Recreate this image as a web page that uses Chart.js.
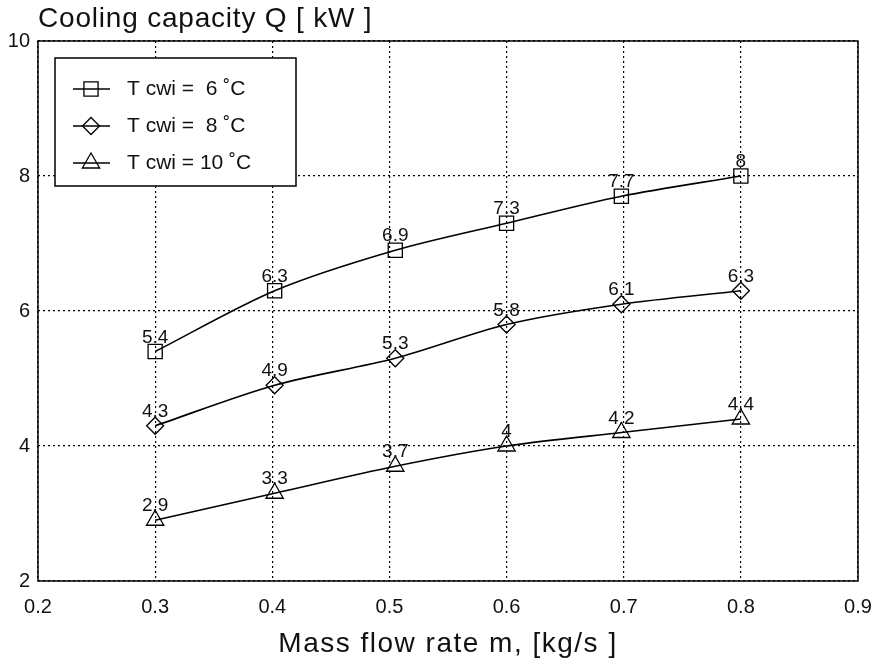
<!DOCTYPE html>
<html>
<head>
<meta charset="utf-8">
<script src="https://cdn.jsdelivr.net/npm/chart.js@4/dist/chart.umd.min.js"></script>
<style>
  html, body { margin: 0; background: #fff; }
  #wrap { width: 877px; height: 665px; }
</style>
</head>
<body>
<div id="wrap"><canvas id="chart"></canvas></div>
<script>
// values
const flowRates = [0.3, 0.402, 0.505, 0.6, 0.698, 0.8];
const capacity6 = [5.4, 6.3, 6.9, 7.3, 7.7, 8];
const capacity8 = [4.3, 4.9, 5.3, 5.8, 6.1, 6.3];
const capacity10 = [2.9, 3.3, 3.7, 4, 4.2, 4.4];
const seriesLabels = ['T cwi =  6 \u02DAC', 'T cwi =  8 \u02DAC', 'T cwi = 10 \u02DAC'];
const xTicks = [0.2, 0.3, 0.4, 0.5, 0.6, 0.7, 0.8, 0.9];
const yTicks = [2, 4, 6, 8, 10];
const chartTitle = 'Cooling capacity Q [ kW ]';
const xTitle = 'Mass flow rate m, [kg/s ]';

const pointStyles = ['rect', 'rectRot', 'triangle'];
const pointSizes = [10, 8.5, 10];

const toPoints = vals => vals.map((v, i) => ({ x: flowRates[i], y: v }));

// draw a hollow marker (used in the legend)
function drawMarker(ctx, style, x, y, r) {
    ctx.beginPath();
    if (style === 'rect') {
        const s = r * Math.SQRT1_2;
        ctx.rect(x - s, y - s, 2 * s, 2 * s);
    } else if (style === 'rectRot') {
        ctx.moveTo(x, y - r); ctx.lineTo(x + r, y); ctx.lineTo(x, y + r); ctx.lineTo(x - r, y); ctx.closePath();
    } else {
        const h = r * 1.5, w = r * Math.sqrt(3) / 2;
        ctx.moveTo(x, y - r); ctx.lineTo(x + w, y - r + h); ctx.lineTo(x - w, y - r + h); ctx.closePath();
    }
    ctx.stroke();
}

const framePlugin = {
    id: 'frame',
    afterDraw(chart) {
        const { ctx, chartArea: a } = chart;
        ctx.save();
        ctx.strokeStyle = '#000';
        ctx.lineWidth = 1.5;
        ctx.strokeRect(a.left, a.top, a.right - a.left, a.bottom - a.top);

        // titles
        ctx.fillStyle = '#111';
        ctx.textBaseline = 'alphabetic';
        ctx.font = '28px "Liberation Sans", Arial, sans-serif';
        ctx.letterSpacing = '0.8px';
        ctx.textAlign = 'left';
        ctx.fillText(chartTitle, a.left, 27);
        ctx.letterSpacing = '1.5px';
        ctx.textAlign = 'center';
        ctx.fillText(xTitle, 448, 652);
        ctx.letterSpacing = '0px';

        // legend box
        const bx = a.left + 17, by = a.top + 17, bw = 241, bh = 128;
        ctx.fillStyle = '#fff';
        ctx.fillRect(bx, by, bw, bh);
        ctx.lineWidth = 1.5;
        ctx.strokeRect(bx, by, bw, bh);
        ctx.font = '21px "Liberation Sans", Arial, sans-serif';
        ctx.textAlign = 'left';
        ctx.textBaseline = 'middle';
        ctx.fillStyle = '#111';
        seriesLabels.forEach((label, i) => {
            const y = by + 31 + i * 37;
            ctx.lineWidth = 1.5;
            ctx.beginPath();
            ctx.moveTo(bx + 18, y); ctx.lineTo(bx + 55, y);
            ctx.stroke();
            ctx.lineWidth = 1.3;
            drawMarker(ctx, pointStyles[i], bx + 36, y, pointSizes[i]);
            ctx.fillText(label, bx + 72, y);
        });
        ctx.restore();
    }
};

const valueLabels = {
    id: 'valueLabels',
    afterDatasetsDraw(chart) {
        const ctx = chart.ctx;
        ctx.save();
        ctx.fillStyle = '#111';
        ctx.font = '19px "Liberation Sans", Arial, sans-serif';
        ctx.textAlign = 'center';
        ctx.textBaseline = 'alphabetic';
        chart.data.datasets.forEach((ds, di) => {
            chart.getDatasetMeta(di).data.forEach((pt, i) => {
                ctx.fillText(String(ds.data[i].y), pt.x, pt.y - 9);
            });
        });
        ctx.restore();
    }
};

const makeSet = (label, vals, i) => ({
    label: label,
    data: toPoints(vals),
    borderColor: '#000',
    borderWidth: 1.6,
    tension: 0.3,
    pointStyle: pointStyles[i],
    pointRadius: pointSizes[i],
    pointHoverRadius: pointSizes[i],
    pointBorderWidth: 1.3,
    pointBorderColor: '#000',
    pointBackgroundColor: 'rgba(0,0,0,0)',
    fill: false
});

const ctx = document.getElementById('chart').getContext('2d');
new Chart(ctx, {
    type: 'line',
    data: {
        datasets: [
            makeSet(seriesLabels[0], capacity6, 0),
            makeSet(seriesLabels[1], capacity8, 1),
            makeSet(seriesLabels[2], capacity10, 2)
        ]
    },
    options: {
        responsive: true,
        maintainAspectRatio: false,
        animation: false,
        layout: { padding: { top: 41, right: 19, left: 0, bottom: 0 } },
        plugins: {
            legend: { display: false },
            tooltip: { enabled: false }
        },
        scales: {
            x: {
                type: 'linear',
                min: 0.2,
                max: 0.9,
                afterBuildTicks: s => { s.ticks = xTicks.map(v => ({ value: v })); },
                afterFit: s => { s.height = 84; s.paddingLeft = 0; s.paddingRight = 0; },
                grid: { color: '#000', lineWidth: 1.2, drawTicks: false },
                border: { display: false, dash: [2, 3] },
                ticks: {
                    padding: 14,
                    color: '#111',
                    font: { family: '"Liberation Sans", Arial, sans-serif', size: 20 },
                    callback: v => v.toFixed(1)
                }
            },
            y: {
                min: 2,
                max: 10,
                afterBuildTicks: s => { s.ticks = yTicks.map(v => ({ value: v })); },
                afterFit: s => { s.width = 38; s.paddingTop = 0; s.paddingBottom = 0; },
                grid: { color: '#000', lineWidth: 1.2, drawTicks: false },
                border: { display: false, dash: [2, 3] },
                ticks: {
                    padding: 8,
                    color: '#111',
                    font: { family: '"Liberation Sans", Arial, sans-serif', size: 20 }
                }
            }
        }
    },
    plugins: [valueLabels, framePlugin]
});
</script>
</body>
</html>
